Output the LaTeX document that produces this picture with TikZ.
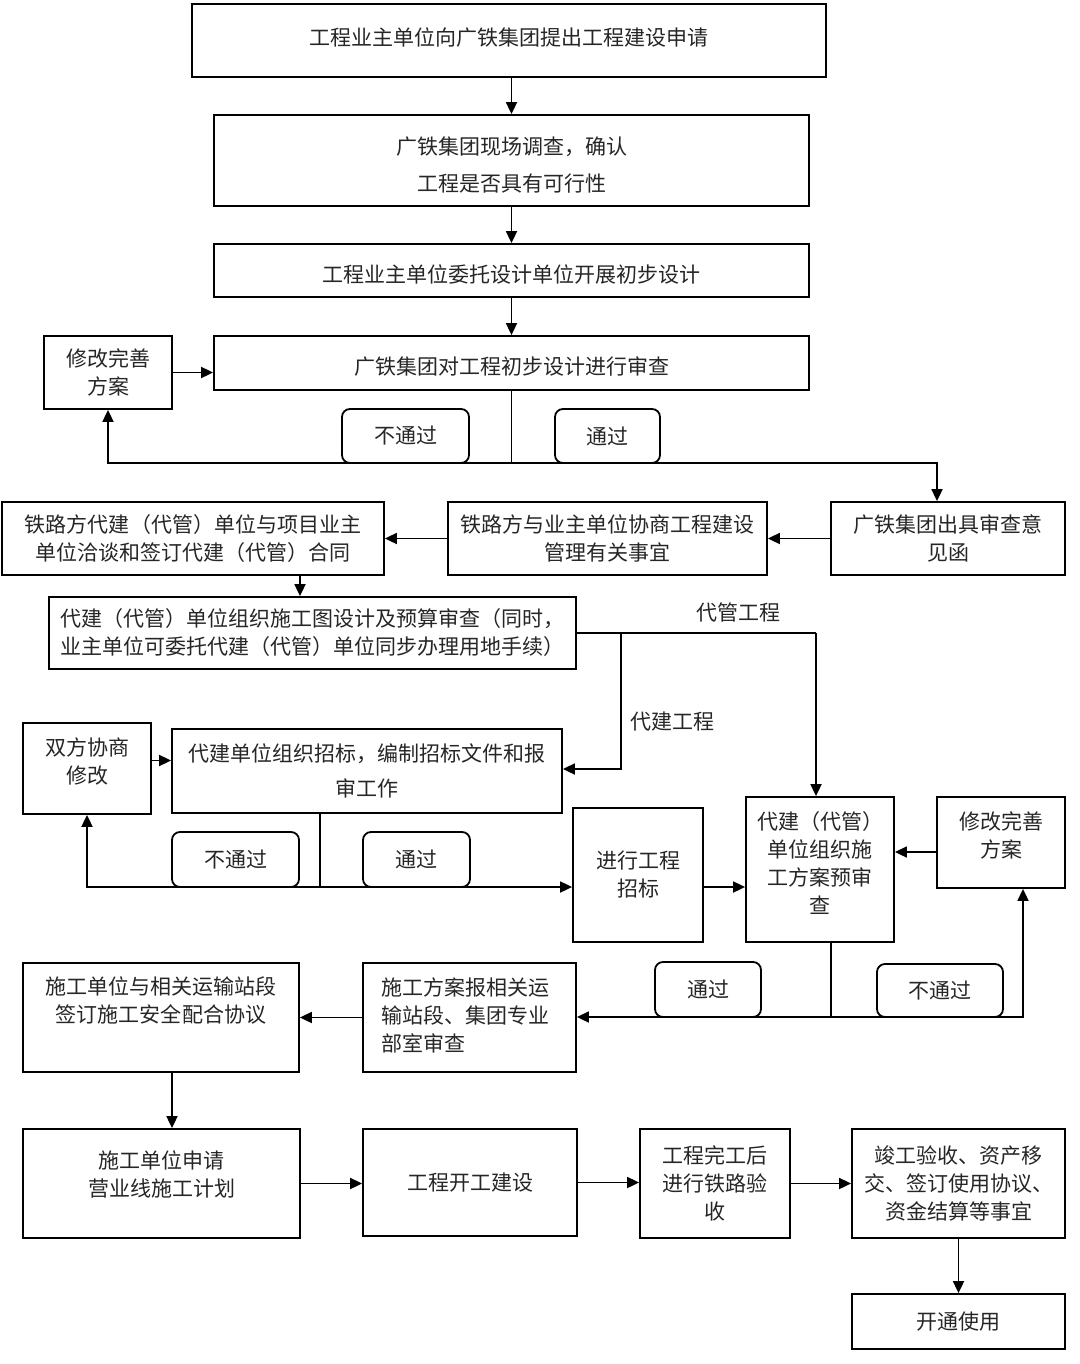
\documentclass[tikz,border=0pt]{standalone}
\usepackage{fontspec}
\newfontfamily\cjk{Noto Sans CJK SC}
\usetikzlibrary{arrows.meta}
\begin{document}
\begin{tikzpicture}[x=0.5pt,y=-0.5pt,
  box/.style={draw, line width=0.9pt, inner sep=0pt, align=center, text=black!85,
    font=\cjk\fontsize{10.5}{14}\selectfont},
  txt/.style={inner sep=0pt, align=center, text=black!85, font=\cjk\fontsize{10.5}{14}\selectfont},
  lab/.style={box, rounded corners=4pt, fill=white},
  ln/.style={line width=0.9pt},
  arr/.style={line width=0.9pt, -{Triangle[length=6pt,width=5.5pt]}}]
\fill[white] (0,0) rectangle (1080,1364);
\useasboundingbox (0,0) rectangle (1080,1364);

% boxes
\node[box, minimum width=317pt, minimum height=36.5pt] (B1) at (509,40.5) {};
\node[txt] (T1) at (509,38) {工程业主单位向广铁集团提出工程建设申请};
\node[box, minimum width=297.5pt, minimum height=45.5pt] (B2) at (511.5,160.5) {};
\node[txt] (T2) at (511.5,165) {广铁集团现场调查，确认\\[4.5pt]工程是否具有可行性};
\node[box, minimum width=297.5pt, minimum height=26.5pt] (B3) at (511.5,270.5) {};
\node[txt] (T3) at (511.5,274) {工程业主单位委托设计单位开展初步设计};
\node[box, minimum width=297.5pt, minimum height=27pt] (B4) at (511.5,363) {};
\node[txt] (T4) at (511.5,366.5) {广铁集团对工程初步设计进行审查};
\node[box, minimum width=64pt, minimum height=36.5pt] (M1) at (108,372.5) {修改完善\\方案};
\node[box, minimum width=117pt, minimum height=36.5pt] (B5) at (948,538.5) {广铁集团出具审查意\\见函};
\node[box, minimum width=159.5pt, minimum height=36.5pt] (B6) at (607.5,538.5) {铁路方与业主单位协商工程建设\\管理有关事宜};
\node[box, minimum width=191pt, minimum height=36.5pt] (B7) at (193,538.5) {铁路方代建（代管）单位与项目业主\\单位洽谈和签订代建（代管）合同};
\node[box, minimum width=263.5pt, minimum height=36pt] (B8) at (312.5,633) {代建（代管）单位组织施工图设计及预算审查（同时，\\业主单位可委托代建（代管）单位同步办理用地手续）};
\node[box, minimum width=195pt, minimum height=42pt] (B9) at (367,771) {代建单位组织招标，编制招标文件和报\\[3.5pt]审工作};
\node[box, minimum width=64pt, minimum height=45.5pt] (B10) at (87,768.5) {};
\node[txt] (T10) at (87,761) {双方协商\\修改};
\node[box, minimum width=65pt, minimum height=67pt] (B11) at (638,875) {进行工程\\招标};
\node[box, minimum width=74pt, minimum height=72.5pt] (B12) at (820,869.5) {};
\node[txt] (T12) at (820,863) {代建（代管）\\单位组织施\\工方案预审\\查};
\node[box, minimum width=64pt, minimum height=45.5pt] (B13) at (1001,842.5) {};
\node[txt] (T13) at (1001,835) {修改完善\\方案};
\node[box, minimum width=106.5pt, minimum height=54.5pt] (B14) at (469.5,1017.5) {};
\node[txt, align=left, anchor=west] (T14) at (381,1015) {施工方案报相关运\\输站段、集团专业\\部室审查};
\node[box, minimum width=138pt, minimum height=54.5pt] (B15) at (161,1017.5) {};
\node[txt] (T15) at (161,1001) {施工单位与相关运输站段\\签订施工安全配合协议};
\node[box, minimum width=138.5pt, minimum height=54.5pt] (B16) at (161.5,1183.5) {};
\node[txt] (T16) at (161.5,1174) {施工单位申请\\营业线施工计划};
\node[box, minimum width=107pt, minimum height=53.5pt] (B17) at (470,1182.5) {工程开工建设};
\node[box, minimum width=75pt, minimum height=54.5pt] (B18) at (715,1183.5) {工程完工后\\进行铁路验\\收};
\node[box, minimum width=106.5pt, minimum height=54.5pt] (B19) at (958.5,1183.5) {竣工验收、资产移\\交、签订使用协议、\\资金结算等事宜};
\node[box, minimum width=106.5pt, minimum height=27.5pt] (B20) at (958.5,1321.5) {开通使用};

% helper coordinates
\coordinate (j1) at (511.5,463);
\coordinate (j2) at (621,633);
\coordinate (j3) at (816,633);
\coordinate (x300) at (300,0);
\coordinate (x320) at (320,0);
\coordinate (j4) at (320,887);
\coordinate (x831) at (831,0);
\coordinate (j5) at (831,1017);
\coordinate (j6) at (1023,1017);
\coordinate (x172) at (172,0);
\coordinate (x937) at (937,0);

% connectors
\draw[arr] (B2.north |- B1.south) -- (B2.north);
\draw[arr] (B2.south) -- (B3.north);
\draw[arr] (B3.south) -- (B4.north);
\draw[arr] (M1.east) -- (M1.east -| B4.west);
\draw[ln] (B4.south) -- (j1);
\draw[arr] (j1) -| (M1.south);
\draw[arr] (j1) -| (x937 |- B5.north);
\draw[arr] (B5.west) -- (B6.east);
\draw[arr] (B6.west) -- (B7.east);
\draw[arr] (x300 |- B7.south) -- (x300 |- B8.north);
\draw[ln] (B8.east) -- (j3);
\draw[arr] (j3) -- (j3 |- B12.north);
\draw[arr] (j2) |- ([yshift=1pt]B9.east);
\draw[arr] ([yshift=4pt]B10.east) -- ([yshift=4pt]B10.east -| B9.west);
\draw[ln] (x320 |- B9.south) -- (j4);
\draw[arr] (j4) -| (B10.south);
\draw[arr] (j4) -- (j4 -| B11.west);
\draw[arr] ([yshift=-6pt]B11.east) -- ([yshift=-6pt]B11.east -| B12.west);
\draw[arr] ([yshift=-4.75pt]B13.west) -- ([yshift=-4.75pt]B13.west -| B12.east);
\draw[ln] (x831 |- B12.south) -- (j5);
\draw[arr] (j5) -- (j5 -| B14.east);
\draw[arr] (j5) -- (j6) -- (j6 |- B13.south);
\draw[arr] (B14.west) -- (B14.west -| B15.east);
\draw[arr] (x172 |- B15.south) -- (x172 |- B16.north);
\draw[arr] (B16.east) -- (B16.east -| B17.west);
\draw[arr] (B17.east) -- (B17.east -| B18.west);
\draw[arr] (B18.east) -- (B18.east -| B19.west);
\draw[arr] (B19.south) -- (B20.north);

% labels
\node[lab, minimum width=63.5pt, minimum height=27pt] (L1) at (405.5,436) {不通过};
\node[lab, minimum width=52.5pt, minimum height=27pt] (L2) at (607.5,436) {通过};
\node[lab, minimum width=63.5pt, minimum height=27.5pt] (L3) at (235.5,859.5) {不通过};
\node[lab, minimum width=53.5pt, minimum height=27.5pt] (L4) at (416.5,859.5) {通过};
\node[lab, minimum width=53pt, minimum height=27.5pt] (L5) at (708,989.5) {通过};
\node[lab, minimum width=63pt, minimum height=26.5pt] (L6) at (940,990.5) {不通过};
\node[txt] (D1) at (738,612) {代管工程};
\node[txt] (D2) at (672,722) {代建工程};
\end{tikzpicture}
\end{document}
